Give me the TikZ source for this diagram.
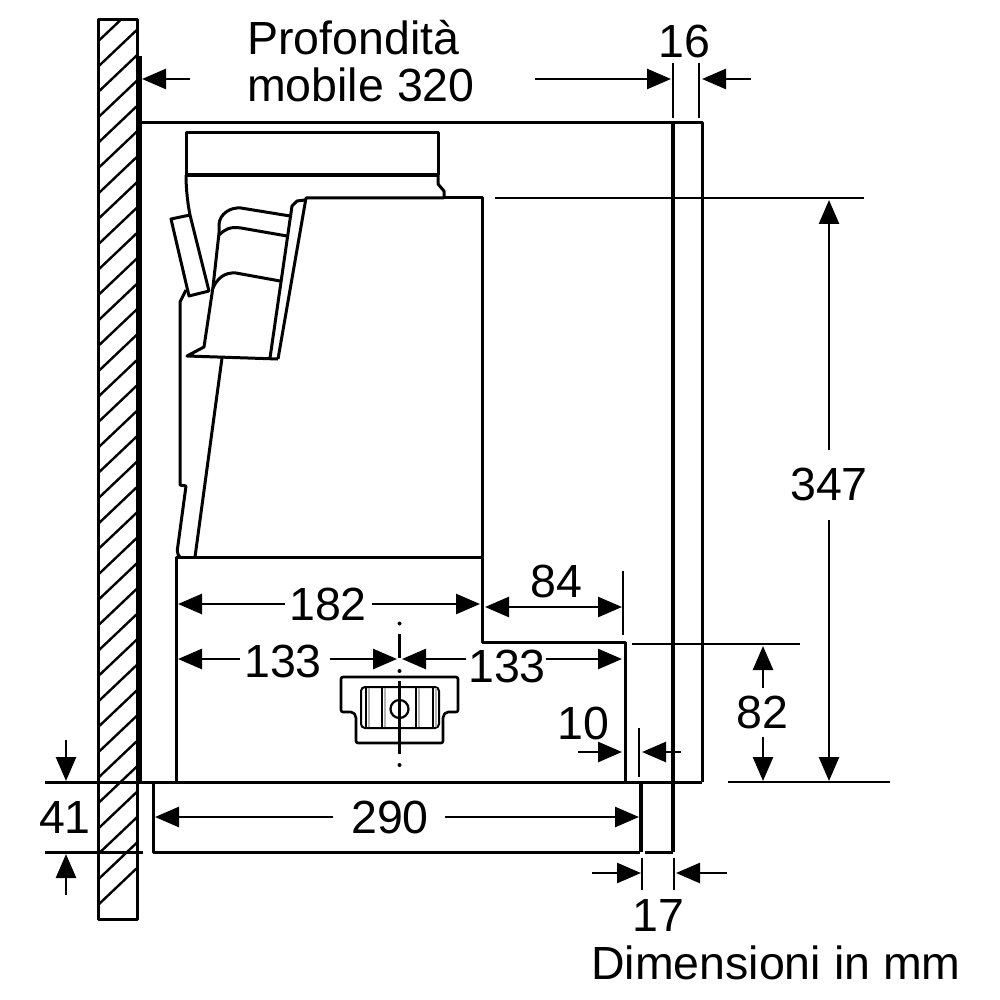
\documentclass[tikz,border=0pt]{standalone}
\usepackage{fontspec}
\setmainfont{Liberation Sans}
\usetikzlibrary{arrows.meta}
\tikzstyle{outline} = [line width=3pt,line join=round]
\tikzstyle{thinline} = [line width=2.6pt,line join=round]
\tikzstyle{dimarrow} = [line width=2.6pt,-{Triangle[length=24pt,width=20pt]}]
\tikzstyle{label} = [inner sep=0pt,font=\fontsize{46.5}{46.5}\selectfont]

\begin{document}
\begin{tikzpicture}[x=1pt,y=-1pt]
\useasboundingbox (0,0) rectangle (1000,1000);

% wall
\begin{scope}
\clip (98,20) rectangle (137,919);
\foreach \i in {0,...,35}{
	\draw[line width=2.4pt] (98,905-25.4*\i) -- (137,905-25.4*\i-37);
}
\end{scope}
\draw[outline] (98,20) rectangle (137,919);
\draw[line width=4pt] (140,56) -- (140,782);

% cabinet
\draw[outline] (140,123) -- (702,123) -- (702,782);
\draw[line width=3.2pt] (673,123) -- (673,852);
\draw[outline] (45,782) -- (702,782);
\draw[thinline] (728,782) -- (890,782);

% bottom strip
\draw[outline] (45,852) -- (143,852);
\draw[outline] (153,782) -- (153,852) -- (640,852);
\draw[line width=4.5pt] (641,782) -- (641,852);
\draw[outline] (645,852) -- (673,852);

% pedestal
\draw[outline] (176,782) -- (176,557) -- (482,557) -- (482,642) -- (625,642) -- (625,782);

% body
\draw[outline] (444,198) -- (482,198) -- (482,557);
\draw[outline] (278,359) -- (306,198) -- (444,198);
\draw[outline] (270,358) -- (292,206) -- (297,201) -- (305,200);
\draw[outline] (222,358) -- (195,557);

% top box
\draw[outline] (186,175) -- (186,133) -- (438,133) -- (438,175);
\draw[line width=3.6pt] (186,175) -- (438,175);
\draw[outline] (438,175) -- (438,184) -- (444,191) -- (444,198);
\draw[outline] (186,175) .. controls (186,190) and (188,205) .. (190,215);

% flap
\draw[outline] (171,219) -- (190,215) -- (209,291) -- (189,296) -- cycle;
\draw[outline] (186,290) -- (180,302) -- (180,485) -- (186,486) -- (178,545) .. controls (177,550) and (177,555) .. (180,557);

% filter
\draw[outline] (278,359) -- (187,356) -- (204,347) -- (213,287) -- (219,233) -- (219,224) .. controls (220,214) and (230,207) .. (241,208) -- (290,216);
\draw[outline] (219,235) .. controls (224,230) and (230,226) .. (241,228) -- (287,236);
\draw[outline] (213,288) .. controls (217,279) and (224,272) .. (236,273) -- (280,281);

% motor
\draw[thinline,rounded corners=2pt] (341,677) -- (458,677) -- (458,712) -- (446,712) -- (443,716) -- (443,743) -- (356,743) -- (356,716) -- (353,712) -- (341,712) -- cycle;
\draw[line width=2pt,rounded corners=4pt] (361,687) rectangle (439,728);
\foreach \x in {366,382,416,433}{
	\draw[line width=2.6pt] (\x,686) -- (\x,729);
	\draw[line width=1.4pt,gray!60] (\x+3,688) -- (\x+3,727);
}
\draw[line width=2.2pt] (399.5,709) circle (9);

% centre line
\draw[line width=3.4pt] (399.5,634) -- (399.5,658);
\draw[line width=3.4pt] (399.5,681) -- (399.5,754);
\foreach \y in {623.5,671,765}{
	\fill (399.5,\y) circle (2);
}

% extension lines
\foreach \xa/\ya/\xb/\yb in {673/63/673/118, 699/63/699/118, 495/198/864/198, 623/571/623/635, 632/644/800/644, 639/728/639/777, 642/858/642/890, 674/858/674/890}{
	\draw[thinline] (\xa,\ya) -- (\xb,\yb);
}

% dimension arrows
\foreach \xa/\ya/\xb/\yb in {
	190/79/142/79, 535/79/671/79, 751/79/702/79,
	829/450/829/200, 829/520/829/781,
	285/604/178/604, 372/604/480/604,
	530/607/485/607, 530/607/622/607,
	240/659/178/659, 330/659/397/659, 466/659/402/659, 546/659/622/659,
	763/688/763/646, 763/737/763/781,
	578/752/622/752, 681/752/642/752,
	333/817/155/817, 445/817/639/817,
	592/873/641/873, 727/873/676/873,
	66/740/66/781, 66/895/66/854}{
	\draw[dimarrow] (\xa,\ya) -- (\xb,\yb);
}

% labels
\node[label,anchor=base west] (depthtop) at (247,55) {Profondità};
\node[label,anchor=base west] (depthbot) at (247,102) {mobile 320};
\node[label] (dimsixteen) at (684,41) {16};
\node[label] (dimheight) at (829,484) {347};
\node[label] (dimeightyfour) at (556,581) {84};
\node[label] (dimwidth) at (328,604) {182};
\node[label] (dimleft) at (283,661) {133};
\node[label] (dimright) at (507,666) {133};
\node[label] (dimeightytwo) at (762,712) {82};
\node[label] (dimten) at (583,723) {10};
\node[label] (dimstrip) at (390,817) {290};
\node[label] (dimfortyone) at (65,817) {41};
\node[label] (dimseventeen) at (658,915) {17};
\node[label,anchor=base west] (units) at (591,979) {Dimensioni in mm};
\end{tikzpicture}
\end{document}
